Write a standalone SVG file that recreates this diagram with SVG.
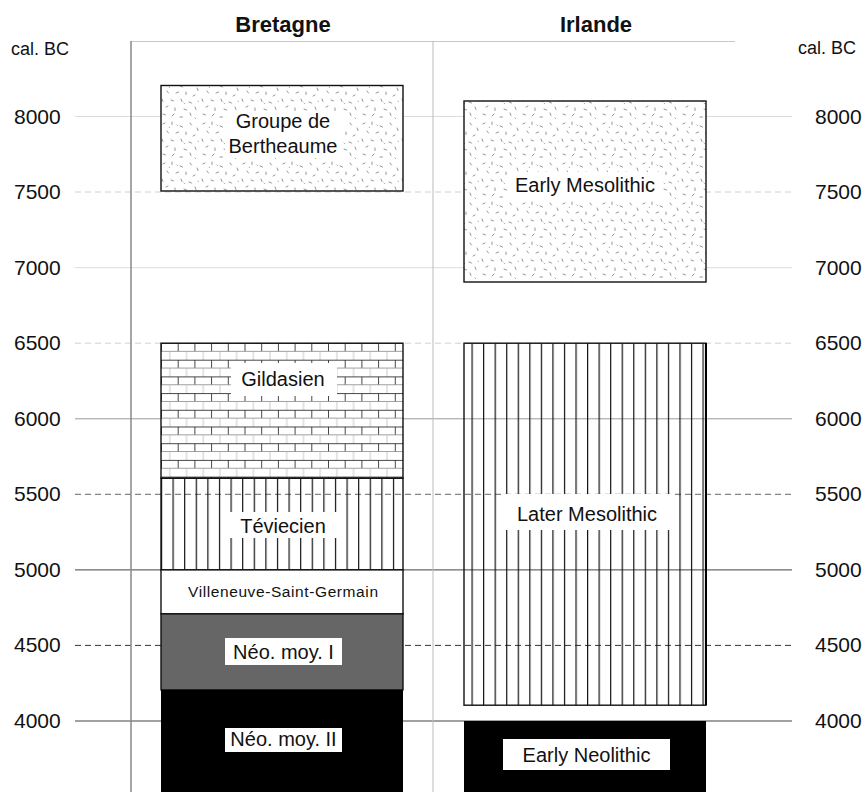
<svg xmlns="http://www.w3.org/2000/svg" width="865" height="792" viewBox="0 0 865 792">
<style>
text{font-family:"Liberation Sans",Arial,sans-serif;fill:#111}
.hdr{font-size:22px;font-weight:bold;text-anchor:middle}
.num{font-size:21px}
.cal{font-size:18px}
.lbl{font-size:20px;text-anchor:middle}
.box{stroke:#111;stroke-width:1.4}
.g1{stroke:#dcdcdc;stroke-width:1}
.g1d{stroke:#d0d0d0;stroke-width:1;stroke-dasharray:6 4}
.g2{stroke:#999;stroke-width:1}
.g2d{stroke:#666;stroke-width:1;stroke-dasharray:6 4}
.g3{stroke:#444;stroke-width:1}
.g3d{stroke:#333;stroke-width:1;stroke-dasharray:6 4}
</style>
<defs>
<pattern id="stip" patternUnits="userSpaceOnUse" width="40" height="40">
<rect width="40" height="40" fill="#fff"/>
<g stroke="#666" stroke-width="0.7" stroke-linecap="round">
<line x1="3" y1="4" x2="5" y2="3"/><line x1="12" y1="2" x2="12" y2="4.5"/><line x1="20" y1="6" x2="22.5" y2="7"/>
<line x1="30" y1="3" x2="31.5" y2="5"/><line x1="37" y1="8" x2="38" y2="10.5"/><line x1="7" y1="11" x2="8.5" y2="13"/>
<line x1="16" y1="13" x2="18.5" y2="12"/><line x1="26" y1="12" x2="26" y2="14.5"/><line x1="33" y1="16" x2="35" y2="15"/>
<line x1="2" y1="19" x2="3" y2="21.5"/><line x1="11" y1="20" x2="13.5" y2="21"/><line x1="21" y1="19" x2="22" y2="21.5"/>
<line x1="29" y1="22" x2="31.5" y2="23"/><line x1="6" y1="27" x2="8" y2="26"/><line x1="15" y1="28" x2="15" y2="30.5"/>
<line x1="24" y1="29" x2="26.5" y2="30"/><line x1="35" y1="27" x2="36" y2="29.5"/><line x1="3" y1="34" x2="5.5" y2="35"/>
<line x1="12" y1="36" x2="14" y2="34"/><line x1="20" y1="37" x2="22.5" y2="37"/><line x1="30" y1="33" x2="31" y2="35.5"/>
<line x1="9" y1="7" x2="9.5" y2="7.5"/><line x1="24" y1="23" x2="24.5" y2="23.5"/><line x1="38" y1="21" x2="38.5" y2="21.5"/>
<line x1="17" y1="5" x2="17.5" y2="5.5"/><line x1="35" y1="38" x2="35.5" y2="38.5"/>
</g>
</pattern>
<pattern id="brick" patternUnits="userSpaceOnUse" x="161" y="343" width="16.7" height="16.7">
<rect width="16.7" height="16.7" fill="#fff"/>
<line x1="0" y1="0.5" x2="16.7" y2="0.5" stroke="#333" stroke-width="0.9"/>
<line x1="0.5" y1="0" x2="0.5" y2="8.35" stroke="#333" stroke-width="0.9"/>
<line x1="0" y1="8.35" x2="16.7" y2="8.35" stroke="#888" stroke-width="0.8"/>
<line x1="8.85" y1="8.35" x2="8.85" y2="16.7" stroke="#bbb" stroke-width="0.8"/>
</pattern>
<pattern id="vl1" patternUnits="userSpaceOnUse" x="172.5" y="0" width="11.6" height="20">
<line x1="0.6" y1="0" x2="0.6" y2="20" stroke="#111" stroke-width="1.2"/>
</pattern>
<pattern id="vl2" patternUnits="userSpaceOnUse" x="471.5" y="0" width="11.55" height="20">
<line x1="0.6" y1="0" x2="0.6" y2="20" stroke="#111" stroke-width="1.2"/>
</pattern>
</defs>
<rect width="865" height="792" fill="#fff"/>
<g id="grid">
<line class="g1" x1="75" y1="116.5" x2="792" y2="116.5"/>
<line class="g1d" x1="75" y1="192" x2="792" y2="192"/>
<line class="g1" x1="75" y1="267.7" x2="792" y2="267.7"/>
<line class="g1d" x1="75" y1="343.2" x2="792" y2="343.2"/>
<line class="g2" x1="75" y1="418.8" x2="792" y2="418.8"/>
<line class="g2d" x1="75" y1="494.3" x2="792" y2="494.3"/>
<line class="g3" x1="75" y1="569.9" x2="792" y2="569.9"/>
<line class="g3d" x1="75" y1="645.4" x2="792" y2="645.4"/>
<line class="g3" x1="75" y1="721" x2="792" y2="721"/>
<line x1="131" y1="41.5" x2="735" y2="41.5" stroke="#c8c8c8" stroke-width="1"/>
<line x1="131" y1="41" x2="131" y2="792" stroke="#888" stroke-width="1.5"/>
<line x1="433" y1="41" x2="433" y2="792" stroke="#bbb" stroke-width="1"/>
</g>
<g id="axis-labels">
<text class="cal" x="11" y="55">cal. BC</text>
<text class="cal" x="798" y="54">cal. BC</text>
<text class="num" x="14" y="123.5">8000</text><text class="num" x="815" y="123.5">8000</text>
<text class="num" x="14" y="199">7500</text><text class="num" x="815" y="199">7500</text>
<text class="num" x="14" y="274.7">7000</text><text class="num" x="815" y="274.7">7000</text>
<text class="num" x="14" y="350.2">6500</text><text class="num" x="815" y="350.2">6500</text>
<text class="num" x="14" y="425.8">6000</text><text class="num" x="815" y="425.8">6000</text>
<text class="num" x="14" y="501.3">5500</text><text class="num" x="815" y="501.3">5500</text>
<text class="num" x="14" y="576.9">5000</text><text class="num" x="815" y="576.9">5000</text>
<text class="num" x="14" y="652.4">4500</text><text class="num" x="815" y="652.4">4500</text>
<text class="num" x="14" y="728">4000</text><text class="num" x="815" y="728">4000</text>
</g>
<g id="headers">
<text class="hdr" x="283" y="32">Bretagne</text>
<text class="hdr" x="596" y="32">Irlande</text>
</g>
<g id="bertheaume">
<rect class="box" x="161" y="85.5" width="242" height="105.5" fill="url(#stip)"/>
<rect x="225" y="112" width="118" height="46" fill="#fff"/>
<text class="lbl" x="283" y="128">Groupe de</text>
<text class="lbl" x="283" y="153">Bertheaume</text>
</g>
<g id="early-mesolithic">
<rect class="box" x="464" y="101" width="242" height="181" fill="url(#stip)"/>
<rect x="507" y="172" width="156" height="28" fill="#fff"/>
<text class="lbl" x="585" y="192">Early Mesolithic</text>
</g>
<g id="gildasien">
<rect class="box" x="161" y="343.2" width="242" height="135" fill="url(#brick)"/>
<rect x="231" y="363" width="106" height="33" fill="#fff"/>
<text class="lbl" x="283" y="386">Gildasien</text>
</g>
<g id="teviecien">
<rect x="161" y="478.2" width="242" height="91.7" fill="url(#vl1)"/>
<rect x="226" y="512" width="112" height="26" fill="#fff"/>
<rect class="box" x="161" y="478.2" width="242" height="91.7" fill="none"/>
<text class="lbl" x="283" y="533">Téviecien</text>
</g>
<g id="vsg">
<rect class="box" x="161" y="569.9" width="242" height="44" fill="#fff"/>
<text x="283" y="597" font-size="15.5" text-anchor="middle" textLength="190">Villeneuve-Saint-Germain</text>
</g>
<g id="neo-moy-1">
<rect class="box" x="161" y="613.9" width="242" height="76" fill="#666"/>
<rect x="225" y="638" width="117" height="27" fill="#fff"/>
<text class="lbl" x="283.5" y="659">Néo. moy. I</text>
</g>
<g id="neo-moy-2">
<rect x="161" y="689.9" width="242" height="103" fill="#000"/>
<rect x="225" y="728" width="117" height="24" fill="#fff"/>
<text class="lbl" x="283.5" y="746">Néo. moy. II</text>
</g>
<g id="later-mesolithic">
<rect x="464" y="343.2" width="242" height="362" fill="url(#vl2)"/>
<rect x="501" y="494" width="174" height="36" fill="#fff"/>
<rect class="box" x="464" y="343.2" width="242" height="362" fill="none"/>
<line x1="706" y1="343" x2="706" y2="705" stroke="#000" stroke-width="2"/>
<text class="lbl" x="587" y="521">Later Mesolithic</text>
</g>
<g id="early-neolithic">
<rect x="464" y="721" width="242" height="72" fill="#000"/>
<rect x="503" y="739" width="167" height="31" fill="#fff"/>
<text class="lbl" x="586.5" y="762">Early Neolithic</text>
</g>
</svg>
